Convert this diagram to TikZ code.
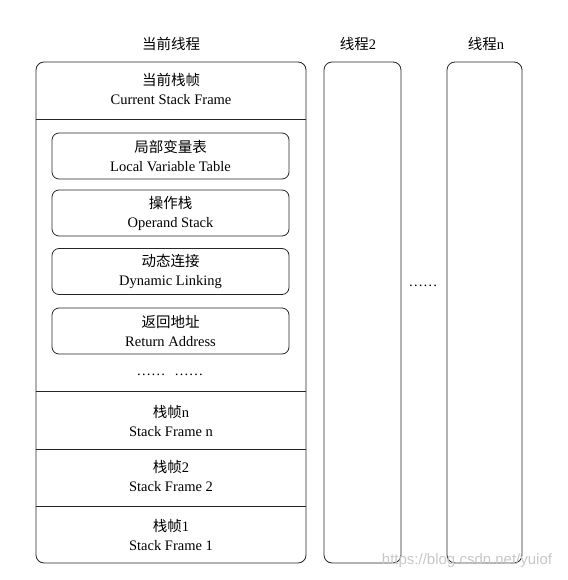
\documentclass[tikz,border=0pt]{standalone}
\usepackage{fontspec}
\setmainfont{Liberation Serif}
\newfontfamily\cjk{Noto Sans CJK SC}
\usetikzlibrary{positioning}

\begin{document}
\begin{tikzpicture}[x=1pt,y=-1pt]

\tikzset{thread/.style = {draw=black!85, line width=0.8pt, rounded corners=8pt, minimum height=501pt, inner sep=0pt}}
\tikzset{slot/.style = {draw=black!85, line width=0.8pt, rounded corners=7pt, minimum width=237pt, minimum height=46pt, inner sep=0pt, align=center, font=\fontsize{14.5}{19}\selectfont}}
\tikzset{txt/.style = {align=center, font=\fontsize{14.5}{19}\selectfont}}
\useasboundingbox (0,0) rectangle (567,580);
% threads
\node[thread, minimum width=270pt] (main) at (171,312.5) {};
\node[thread, minimum width=77pt] (t2) at (362.5,312.5) {};
\node[thread, minimum width=75pt] (tn) at (484.5,312.5) {};
\node[txt] (lmain) at (171,44) {\cjk 当前线程};
\node[txt] (lt2) at (358,44) {{\cjk 线程}2};
\node[txt] (ltn) at (486,44) {{\cjk 线程}n};
\node[txt] (more) at (423,286) {……};
% frames
\node[txt] (cur) at (171,88.5) {{\cjk 当前栈帧}\\Current Stack Frame};
\node[slot] (lvt) at (170.5,156) {{\cjk 局部变量表}\\Local Variable Table};
\node[slot] (ops) at (170.5,213) {{\cjk 操作栈}\\Operand Stack};
\node[slot] (dyn) at (170.5,271.5) {{\cjk 动态连接}\\Dynamic Linking};
\node[slot] (ret) at (170.5,331) {{\cjk 返回地址}\\Return Address};
\node[txt] (dots) at (170,375) {……\hspace{9pt}……};
\node[txt] (sfn) at (171,421) {{\cjk 栈帧}n\\Stack Frame n};
\node[txt] (sf2) at (171,476) {{\cjk 栈帧}2\\Stack Frame 2};
\node[txt] (sf1) at (171,535) {{\cjk 栈帧}1\\Stack Frame 1};
%lines
\foreach \y in {119,391,449,506}
  \draw[black!85, line width=0.8pt] (main.west |- 0,\y) -- (main.east |- 0,\y);
\node[font=\fontspec{Liberation Sans}\fontsize{15}{15}\selectfont, text=black!22] (mark) at (467,561) {https://blog.csdn.net/yuiof};
\end{tikzpicture}
\end{document}
